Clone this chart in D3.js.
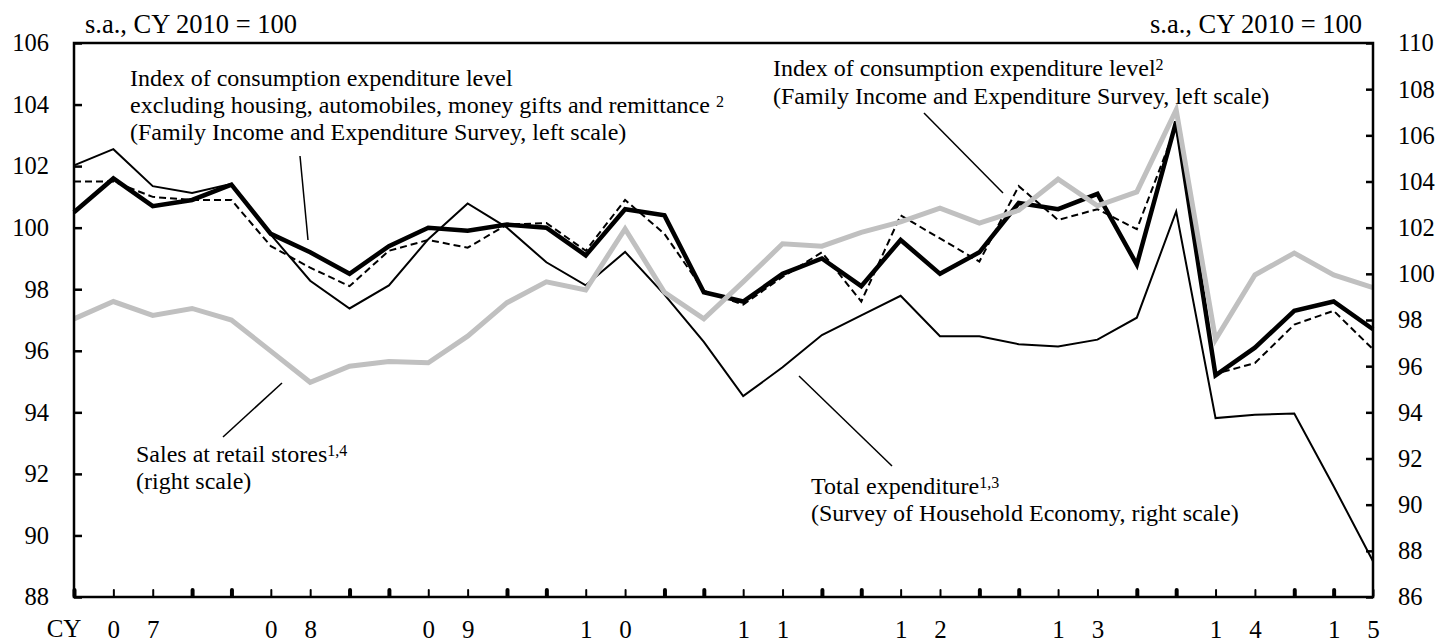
<!DOCTYPE html>
<html>
<head>
<meta charset="utf-8">
<script src="https://cdn.jsdelivr.net/npm/d3@7"></script>
<style>
  body { margin: 0; background: #fff; }
  svg { display: block; font-family: "Liberation Serif", "Times New Roman", serif; }
</style>
</head>
<body>
<svg id="chart" width="1440" height="641"></svg>
<script>
// quarters, CY2007 Q1 .. CY2015 Q2
var quarters = ['07Q1','07Q2','07Q3','07Q4','08Q1','08Q2','08Q3','08Q4','09Q1','09Q2','09Q3','09Q4',
  '10Q1','10Q2','10Q3','10Q4','11Q1','11Q2','11Q3','11Q4','12Q1','12Q2','12Q3','12Q4',
  '13Q1','13Q2','13Q3','13Q4','14Q1','14Q2','14Q3','14Q4','15Q1','15Q2']
// year label digits as they sit under the ticks
var tickText = ['','0','7','', '','0','8','', '','0','9','', '','1','0','', '','1','1','',
  '','1','2','', '','1','3','', '','1','4','', '1','5']
var leftTicks = [88, 90, 92, 94, 96, 98, 100, 102, 104, 106]
var rightTicks = [86, 88, 90, 92, 94, 96, 98, 100, 102, 104, 106, 108, 110]

// left scale
var consumptionExcl = [100.5, 101.6, 100.7, 100.9, 101.4, 99.8, 99.2, 98.5, 99.4, 100.0, 99.9, 100.1,
  100.0, 99.1, 100.6, 100.4, 97.9, 97.6, 98.5, 99.0, 98.1, 99.6, 98.5, 99.2,
  100.8, 100.6, 101.1, 98.8, 103.45, 95.2, 96.1, 97.3, 97.6, 96.7]
var consumptionLevel = [101.5, 101.5, 101.0, 100.9, 100.9, 99.4, 98.7, 98.1, 99.25, 99.6, 99.35, 100.1,
  100.15, 99.25, 100.9, 99.8, 97.95, 97.5, 98.4, 99.2, 97.6, 100.4, 99.65, 98.9,
  101.35, 100.25, 100.6, 99.95, 103.3, 95.25, 95.6, 96.85, 97.3, 96.05]
// right scale
var totalExpenditure = [104.7, 105.4, 103.8, 103.5, 103.9, 101.7, 99.7, 98.5, 99.5, 101.5, 103.05, 102.0,
  100.5, 99.5, 100.95, 99.1, 97.05, 94.7, 95.95, 97.35, 98.2, 99.05, 97.3, 97.3,
  96.95, 96.85, 97.15, 98.1, 102.7, 93.75, 93.9, 93.95, 90.8, 87.55]
var retailSales = [98.05, 98.8, 98.2, 98.5, 98.0, 96.65, 95.3, 96.0, 96.2, 96.15, 97.3, 98.75,
  99.65, 99.3, 101.95, 99.2, 98.05, 99.65, 101.3, 101.2, 101.8, 102.25, 102.85, 102.2,
  102.75, 104.1, 102.95, 103.55, 107.1, 97.15, 99.95, 100.9, 99.95, 99.4]

var plotL = 74, plotR = 1373, plotT = 43, plotB = 597

var svg = d3.select('#chart')

var x = d3.scalePoint().domain(quarters).range([plotL, plotR])
var yL = d3.scaleLinear().domain([88, 106]).range([plotB, plotT])
var yR = d3.scaleLinear().domain([86, 110]).range([plotB, plotT])

function styleAxis(g) {
  g.select('.domain').remove()
  g.selectAll('.tick line').attr('stroke', '#000').attr('stroke-width', 2.5)
  g.selectAll('.tick text').attr('fill', '#000')
    .style('font-family', '"Liberation Serif", serif').style('font-size', '24.5px')
}

svg.append('g').attr('transform', 'translate(' + plotL + ',0)')
  .call(d3.axisLeft(yL).tickValues(leftTicks).tickSize(-8).tickPadding(25).tickFormat(d3.format('d')))
  .call(styleAxis)

svg.append('g').attr('transform', 'translate(' + plotR + ',0)')
  .call(d3.axisRight(yR).tickValues(rightTicks).tickSize(-7).tickPadding(25).tickFormat(d3.format('d')))
  .call(styleAxis)

var xAxis = svg.append('g').attr('transform', 'translate(0,' + plotB + ')')
  .call(d3.axisBottom(x).tickSize(-7).tickPadding(23).tickFormat(function (d, i) { return tickText[i] }))
  .call(styleAxis)
xAxis.selectAll('.tick text').style('font-size', '25px')
xAxis.selectAll('.tick line')
  .attr('stroke-linecap', 'round')
  .attr('stroke-width', function (d, i) { return (i % 4 === 0 || i % 4 === 3) ? 4 : 2 })
  .attr('y1', -1)

svg.append('text').attr('x', 64).attr('y', 637).attr('text-anchor', 'middle')
  .style('font-size', '25px').text('CY')

// unit labels
svg.append('text').attr('x', 85).attr('y', 33).style('font-size', '26.5px').text('s.a., CY 2010 = 100')
svg.append('text').attr('x', 1362).attr('y', 33).attr('text-anchor', 'end')
  .style('font-size', '26.5px').text('s.a., CY 2010 = 100')

// series
var lineL = d3.line().x(function (d, i) { return x(quarters[i]) }).y(function (d) { return yL(d) })
var lineR = d3.line().x(function (d, i) { return x(quarters[i]) }).y(function (d) { return yR(d) })

var plot = svg.append('g').attr('fill', 'none').attr('stroke-linejoin', 'miter')

plot.append('path').attr('d', lineR(totalExpenditure))
  .attr('stroke', '#000').attr('stroke-width', 2)
plot.append('path').attr('d', lineL(consumptionLevel))
  .attr('stroke', '#000').attr('stroke-width', 2).attr('stroke-dasharray', '7,4')
plot.append('path').attr('d', lineL(consumptionExcl))
  .attr('stroke', '#000').attr('stroke-width', 4.5)
plot.append('path').attr('d', lineR(retailSales))
  .attr('stroke', '#c0c0c0').attr('stroke-width', 5)

// frame
svg.append('rect')
  .attr('x', plotL).attr('y', plotT)
  .attr('width', plotR - plotL).attr('height', plotB - plotT)
  .attr('fill', 'none').attr('stroke', '#000').attr('stroke-width', 2.5)

// annotations
function note(xp, yp, txt, supText) {
  var t = svg.append('text').attr('x', xp).attr('y', yp).style('font-size', '24px')
  t.append('tspan').text(txt)
  if (supText) {
    t.append('tspan').attr('dy', -6).style('font-size', '16px').text(supText)
  }
}
function pointer(x1, y1, x2, y2) {
  svg.append('line').attr('x1', x1).attr('y1', y1).attr('x2', x2).attr('y2', y2)
    .attr('stroke', '#000').attr('stroke-width', 1.5)
}

note(130, 86, 'Index of consumption expenditure level')
note(130, 113, 'excluding housing, automobiles, money gifts and remittance ', '2')
note(130, 140, '(Family Income and Expenditure Survey, left scale)')
pointer(300, 156, 308, 240)

note(773, 76, 'Index of consumption expenditure level', '2')
note(773, 104, '(Family Income and Expenditure Survey, left scale)')
pointer(924, 113, 1003, 193)

note(136, 462, 'Sales at retail stores', '1,4')
note(136, 489, '(right scale)')
pointer(223, 437, 282, 383)

note(811, 494, 'Total expenditure', '1,3')
note(811, 521, '(Survey of Household Economy, right scale)')
pointer(799, 376, 892, 466)
</script>
</body>
</html>
